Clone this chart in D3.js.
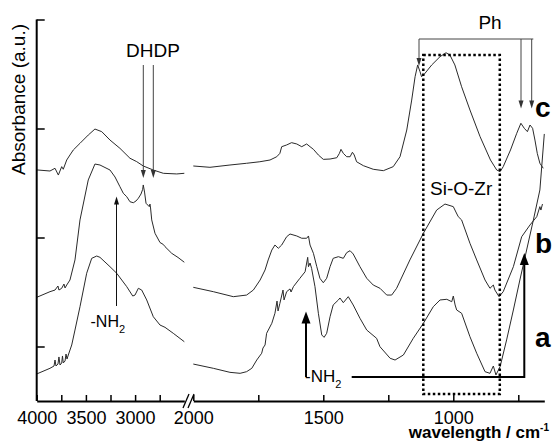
<!DOCTYPE html>
<html><head><meta charset="utf-8">
<script src="https://cdn.jsdelivr.net/npm/d3@7"></script>
<style>
body{margin:0;background:#fff;}
svg{display:block;font-family:"Liberation Sans",Arial,sans-serif;}
</style></head>
<body><svg id="chart" width="559" height="441"></svg>
<script>
// ---- data: [wavenumber (cm-1), absorbance (a.u.)] ----
const specCLeft = [[4000,2.12],[3865,2.11],[3814,2.135],[3780,2.073],[3746,2.15],[3730,2.126],[3695,2.211],[3662,2.257],[3628,2.303],[3560,2.364],[3476,2.44],[3408,2.495],[3339,2.471],[3255,2.394],[3154,2.318],[3052,2.227],[2984,2.196],[2917,2.156],[2815,2.119],[2713,2.089],[2577,2.083],[2500,2.089]];
const specBLeft = [[4000,0.951],[3865,1.003],[3814,1.018],[3784,1.055],[3774,1.018],[3746,1.034],[3723,1.073],[3712,1.037],[3695,1.064],[3662,1.110],[3611,1.294],[3560,1.661],[3476,2.028],[3408,2.174],[3357,2.165],[3255,2.119],[3204,2.055],[3154,1.966],[3120,1.906],[3085,1.874],[3052,1.828],[3018,1.819],[2991,1.835],[2967,1.860],[2940,1.899],[2923,1.942],[2917,1.982],[2904,1.917],[2889,1.814],[2856,1.783],[2849,1.807],[2843,1.771],[2831,1.661],[2798,1.539],[2747,1.454],[2713,1.436],[2696,1.416],[2628,1.355],[2564,1.317],[2500,1.273]];
const specALeft = [[4000,0.248],[3865,0.300],[3824,0.321],[3814,0.376],[3804,0.321],[3784,0.339],[3774,0.404],[3763,0.330],[3746,0.349],[3738,0.413],[3730,0.349],[3712,0.367],[3702,0.431],[3692,0.385],[3679,0.422],[3644,0.514],[3611,0.651],[3560,0.865],[3492,1.172],[3441,1.309],[3390,1.330],[3357,1.318],[3255,1.232],[3187,1.172],[3085,1.049],[3024,0.963],[3001,0.972],[2967,1.034],[2933,1.018],[2882,0.927],[2815,0.773],[2788,0.743],[2747,0.697],[2696,0.676],[2612,0.621],[2500,0.544]];
const specCRight = [[2000,2.156],[1936,2.144],[1859,2.165],[1795,2.181],[1744,2.195],[1705,2.211],[1679,2.241],[1667,2.272],[1660,2.333],[1641,2.349],[1622,2.370],[1602,2.358],[1583,2.333],[1564,2.358],[1551,2.333],[1538,2.309],[1519,2.257],[1500,2.217],[1474,2.220],[1448,2.232],[1438,2.272],[1432,2.309],[1423,2.272],[1410,2.241],[1397,2.241],[1388,2.282],[1381,2.257],[1372,2.195],[1346,2.159],[1308,2.126],[1269,2.113],[1231,2.150],[1205,2.241],[1179,2.486],[1160,2.761],[1147,2.975],[1137,3.083],[1128,3.021],[1122,2.975],[1109,3.006],[1083,3.083],[1051,3.159],[1028,3.195],[1013,3.174],[994,3.083],[968,2.883],[936,2.670],[897,2.425],[857,2.211],[833,2.119],[820,2.104],[808,2.150],[780,2.303],[756,2.456],[740,2.548],[727,2.502],[715,2.471],[705,2.532],[695,2.502],[686,2.394],[677,2.272],[667,2.181],[654,2.135]];
const specBRight = [[2000,1.043],[1923,1.003],[1846,0.957],[1795,0.972],[1769,1.018],[1743,1.110],[1724,1.202],[1712,1.294],[1698,1.385],[1686,1.431],[1673,1.401],[1660,1.431],[1641,1.507],[1628,1.532],[1602,1.514],[1583,1.493],[1564,1.493],[1557,1.514],[1551,1.431],[1538,1.355],[1525,1.232],[1513,1.126],[1500,1.085],[1487,1.126],[1474,1.232],[1462,1.309],[1442,1.324],[1423,1.309],[1410,1.361],[1397,1.379],[1385,1.349],[1359,1.232],[1333,1.126],[1308,1.064],[1282,1.034],[1256,0.972],[1237,0.972],[1218,1.034],[1167,1.294],[1115,1.539],[1064,1.752],[1032,1.807],[1000,1.783],[990,1.734],[981,1.691],[968,1.661],[936,1.447],[910,1.294],[878,1.110],[859,1.034],[846,1.064],[840,1.018],[824,0.957],[808,1.003],[769,1.232],[737,1.507],[705,1.615],[679,1.691],[667,1.783],[663,1.752],[657,1.807]];
const specARight = [[2000,0.339],[1923,0.300],[1859,0.263],[1820,0.254],[1795,0.269],[1775,0.300],[1756,0.376],[1737,0.438],[1732,0.486],[1724,0.514],[1718,0.621],[1698,0.713],[1686,0.805],[1678,0.917],[1674,0.826],[1667,0.896],[1655,1.018],[1651,0.927],[1641,1.003],[1628,1.028],[1624,1.000],[1615,1.049],[1590,1.126],[1570,1.186],[1560,1.318],[1557,1.232],[1551,1.266],[1545,1.217],[1532,1.049],[1519,0.805],[1506,0.606],[1497,0.584],[1487,0.621],[1474,0.773],[1462,0.881],[1442,0.927],[1436,0.945],[1423,0.902],[1404,0.957],[1385,0.881],[1359,0.759],[1333,0.651],[1295,0.575],[1282,0.498],[1243,0.392],[1224,0.376],[1192,0.422],[1154,0.575],[1115,0.713],[1077,0.865],[1051,0.927],[1025,0.933],[1006,0.911],[1000,0.963],[993,0.881],[987,0.835],[968,0.805],[936,0.590],[910,0.438],[878,0.269],[859,0.254],[846,0.321],[836,0.239],[820,0.315],[795,0.560],[769,0.835],[744,1.110],[718,1.385],[692,1.661],[667,1.936],[650,2.45]];
const leftTicks = [4000,3750,3500,3250,3000,2750];
const leftLabels = [4000,3500,3000];
const rightTicks = [2000,1750,1500,1250,1000,750];
const rightLabels = [2000,1500,1000];
const yTicks = [0.5,1.5,2.5,3.5];

// ---- scales ----
const xL = d3.scaleLinear().domain([4000,2500]).range([36.7,184.3]);
const xR = d3.scaleLinear().domain([2000,650]).range([193.3,544.3]);
const y = d3.scaleLinear().domain([0,3.5]).range([401,19.5]);

const svg = d3.select('#chart');
function head(g, x, yTip, w, h, dir, color){
  const s = dir==='down' ? -1 : 1;
  g.append('path').attr('d',`M${x},${yTip} L${x-w/2},${yTip+s*h} L${x+w/2},${yTip+s*h} Z`).attr('fill',color);
}

// ---- curves ----
const lineL = d3.line().x(d=>xL(d[0])).y(d=>y(d[1]));
const lineR = d3.line().x(d=>xR(d[0])).y(d=>y(d[1]));
const curves = svg.append('g').attr('fill','none').attr('stroke','#2a2a2a').attr('stroke-width',1);
[specCLeft,specBLeft,specALeft].forEach(s=>curves.append('path').attr('d',lineL(s)));
[specCRight,specBRight,specARight].forEach(s=>curves.append('path').attr('d',lineR(s)));

// ---- axes ----
const axL = svg.append('g').attr('transform','translate(0,401)')
  .call(d3.axisBottom(xL).tickValues(leftTicks).tickSize(-6).tickSizeOuter(0).tickPadding(10)
    .tickFormat(d=>leftLabels.includes(d)?d:''));
const axR = svg.append('g').attr('transform','translate(0,401)')
  .call(d3.axisBottom(xR).tickValues(rightTicks).tickSize(-6).tickSizeOuter(0).tickPadding(10)
    .tickFormat(d=>rightLabels.includes(d)?d:''));
const axY = svg.append('g').attr('transform','translate(36.7,0)')
  .call(d3.axisLeft(y).tickValues(yTicks).tickSize(-8).tickSizeOuter(0).tickFormat(''));
[axL,axR,axY].forEach(a=>{
  a.select('.domain').attr('stroke','#000').attr('stroke-width',2);
  a.selectAll('.tick line').attr('stroke','#000').attr('stroke-width',1.5);
  a.selectAll('.tick text').attr('font-size',18).attr('fill','#000').attr('font-family','"Liberation Sans",Arial,sans-serif');
});
axY.select('.domain').attr('d',`M0,${y(0)}V${y(3.5)}`);

// axis break slashes
const brk = svg.append('g').attr('stroke','#000').attr('stroke-width',1.3);
brk.append('line').attr('x1',183).attr('y1',408).attr('x2',189).attr('y2',394);
brk.append('line').attr('x1',188).attr('y1',408).attr('x2',194).attr('y2',394);

// axis titles
svg.append('text').attr('transform','translate(25,99.5) rotate(-90)').attr('text-anchor','middle')
  .attr('font-size',19).text('Absorbance (a.u.)');
const xt = svg.append('text').attr('x',549).attr('y',437.5).attr('text-anchor','end')
  .attr('font-size',17).attr('font-weight','bold');
xt.append('tspan').text('wavelength / cm');
xt.append('tspan').attr('dy',-7).attr('font-size',10).text('-1');

// ---- annotations ----
const ann = svg.append('g');
// dotted Si-O-Zr box
ann.append('rect').attr('x',423.3).attr('y',55).attr('width',76.5).attr('height',339)
  .attr('fill','none').attr('stroke','#000').attr('stroke-width',2.5).attr('stroke-dasharray','2.5,2.5');
ann.append('text').attr('x',430).attr('y',195).attr('font-size',19).text('Si-O-Zr');

// DHDP arrows
ann.append('text').attr('x',153).attr('y',57).attr('text-anchor','middle').attr('font-size',19).text('DHDP');
[143.3,153.3].forEach(x=>{
  ann.append('line').attr('x1',x).attr('y1',65).attr('x2',x).attr('y2',172).attr('stroke','#444').attr('stroke-width',1);
  head(ann,x,178,5,8,'down','#333');
});
// left -NH2
ann.append('line').attr('x1',116.5).attr('y1',306).attr('x2',116.5).attr('y2',202).attr('stroke','#111').attr('stroke-width',1);
head(ann,116.5,196.5,5,8,'up','#111');
const nh1 = ann.append('text').attr('x',90.5).attr('y',327).attr('font-size',16);
nh1.append('tspan').text('-NH');
nh1.append('tspan').attr('dy',6).attr('font-size',11).text('2');

// right -NH2 bold arrow
ann.append('line').attr('x1',306).attr('y1',377).attr('x2',306).attr('y2',320).attr('stroke','#000').attr('stroke-width',2);
head(ann,306,311.5,9,12,'up','#000');
const nh2 = ann.append('text').attr('x',305).attr('y',381.5).attr('font-size',17);
nh2.append('tspan').text('-NH');
nh2.append('tspan').attr('dy',6).attr('font-size',11).text('2');
ann.append('path').attr('d','M351.7,377 H524.3 V262').attr('fill','none').attr('stroke','#000').attr('stroke-width',2);
head(ann,524.3,253,9,12,'up','#000');

// Ph arrows
ann.append('text').attr('x',490).attr('y',28.5).attr('text-anchor','middle').attr('font-size',19).text('Ph');
ann.append('path').attr('d','M419,60 V39 H533.3').attr('fill','none').attr('stroke','#444').attr('stroke-width',1);
head(ann,419,66,5,8,'down','#333');
[521,531.7].forEach(x=>{
  ann.append('line').attr('x1',x).attr('y1',39).attr('x2',x).attr('y2',102).attr('stroke','#444').attr('stroke-width',1);
  head(ann,x,108.5,5,8,'down','#333');
});

// series labels
[['c',117],['b',253],['a',347]].forEach(([t,yy])=>{
  ann.append('text').attr('x',535).attr('y',yy).attr('font-size',28).attr('font-weight','bold').text(t);
});
</script></body></html>
